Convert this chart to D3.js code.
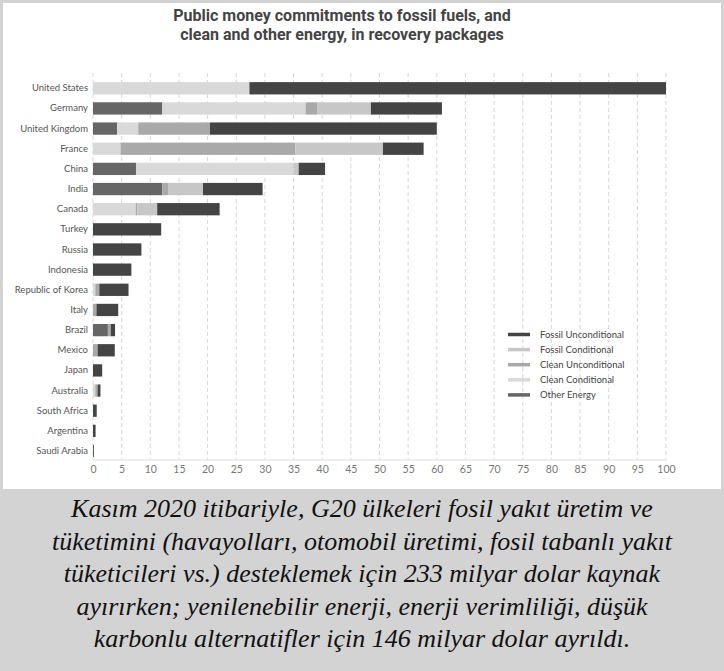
<!DOCTYPE html>
<html>
<head>
<meta charset="utf-8">
<title>Recovery packages</title>
<style>
  body { margin: 0; background: #d3d3d3; }
  svg { display: block; }
</style>
</head>
<body>
<div id="viz"></div>
<script src="https://d3js.org/d3.v7.min.js"></script>
<script>

var countries = ["United States", "Germany", "United Kingdom", "France", "China", "India", "Canada",
    "Turkey", "Russia", "Indonesia", "Republic of Korea", "Italy", "Brazil", "Mexico", "Japan",
    "Australia", "South Africa", "Argentina", "Saudi Arabia"];

// billions USD
var otherEnergy         = [0, 12.1, 4.2, 0, 7.5, 12.1, 0, 0, 0, 0, 0, 0, 2.6, 0, 0, 0, 0, 0, 0];
var cleanConditional    = [27.3, 25.0, 3.7, 4.8, 27.5, 0, 7.45, 0, 0, 0, 0.4, 0, 0, 0, 0, 0.4, 0, 0, 0];
var cleanUnconditional  = [0, 2.1, 12.5, 30.5, 0, 1.1, 0.3, 0, 0, 0, 0.7, 0.6, 0.5, 0.8, 0, 0.4, 0, 0, 0];
var fossilConditional   = [0, 9.3, 0, 15.3, 0.9, 6.0, 3.45, 0, 0, 0, 0, 0, 0, 0, 0, 0, 0, 0, 0];
var fossilUnconditional = [72.7, 12.4, 39.6, 7.1, 4.6, 10.4, 10.9, 11.9, 8.45, 6.7, 5.1, 3.8, 0.75, 3.0, 1.6, 0.5, 0.65, 0.45, 0.15];

var xTicks = d3.range(0, 101, 5);

var seriesKeys = ["Other Energy", "Clean Conditional", "Clean Unconditional", "Fossil Conditional", "Fossil Unconditional"];
var seriesValues = [otherEnergy, cleanConditional, cleanUnconditional, fossilConditional, fossilUnconditional];
var seriesColors = ["#666666", "#d9d9d9", "#a9a9a9", "#c7c7c7", "#444444"];
var legendOrder = ["Fossil Unconditional", "Fossil Conditional", "Clean Unconditional", "Clean Conditional", "Other Energy"];

var caption = [
    "Kasım 2020 itibariyle, G20 ülkeleri fosil yakıt üretim ve",
    "tüketimini (havayolları, otomobil üretimi, fosil tabanlı yakıt",
    "tüketicileri vs.) desteklemek için 233 milyar dolar kaynak",
    "ayırırken; yenilenebilir enerji, enerji verimliliği, düşük",
    "karbonlu alternatifler için 146 milyar dolar ayrıldı."
];

var width = 724, height = 671;

var rows = countries.map(function (c, i) {
    var r = { country: c };
    seriesKeys.forEach(function (k, j) { r[k] = seriesValues[j][i]; });
    return r;
});

var svg = d3.select("#viz").append("svg")
    .attr("width", width)
    .attr("height", height);

// frame
svg.append("rect").attr("width", width).attr("height", height).attr("fill", "#d3d3d3");
svg.append("rect")
    .attr("x", 3).attr("y", 3)
    .attr("width", width - 6).attr("height", 486)
    .attr("fill", "#fff");

// title
svg.append("text")
    .attr("x", 342).attr("y", 21)
    .attr("text-anchor", "middle")
    .style("font-family", "Roboto, sans-serif")
    .style("font-weight", 700)
    .style("font-size", "16px")
    .attr("fill", "#444")
    .selectAll("tspan")
    .data(["Public money commitments to fossil fuels, and", "clean and other energy, in recovery packages"])
    .enter().append("tspan")
    .attr("x", 342)
    .attr("dy", function (d, i) { return i ? 19 : 0; })
    .text(function (d) { return d; });

var x = d3.scaleLinear().domain([0, 100]).range([93, 666]);
var y = d3.scaleBand().domain(countries).range([78.2, 461.1]).paddingInner(0.39).paddingOuter(0.195);

var gridTop = 73, axisY = 459.5;

// gridlines
svg.append("g")
    .selectAll("line")
    .data(xTicks)
    .enter().append("line")
    .attr("x1", function (d) { return x(d); })
    .attr("x2", function (d) { return x(d); })
    .attr("y1", gridTop)
    .attr("y2", axisY)
    .attr("stroke", "#d6d6d6")
    .attr("stroke-width", 1)
    .attr("stroke-dasharray", "4,3");

// x axis
var xAxis = svg.append("g")
    .attr("transform", "translate(0," + axisY + ")")
    .call(d3.axisBottom(x).tickValues(xTicks).tickSize(0).tickPadding(6));
xAxis.select(".domain").attr("stroke", "#ddd");
xAxis.selectAll("text")
    .style("font-family", "Lato, sans-serif")
    .style("font-size", "10.5px")
    .attr("fill", "#777");

// country labels
var yAxis = svg.append("g")
    .attr("transform", "translate(93,0)")
    .call(d3.axisLeft(y).tickSize(0).tickPadding(5));
yAxis.select(".domain").remove();
yAxis.selectAll("text")
    .style("font-family", "Lato, sans-serif")
    .style("font-size", "9.5px")
    .attr("fill", "#555");

// bars
var stacked = d3.stack().keys(seriesKeys)(rows);
var color = d3.scaleOrdinal().domain(seriesKeys).range(seriesColors);

svg.append("g")
    .selectAll("g")
    .data(stacked)
    .enter().append("g")
    .attr("fill", function (d) { return color(d.key); })
    .selectAll("rect")
    .data(function (d) { return d; })
    .enter().append("rect")
    .attr("x", function (d) { return x(d[0]); })
    .attr("y", function (d) { return y(d.data.country); })
    .attr("width", function (d) { return Math.max(0, x(d[1]) - x(d[0])); })
    .attr("height", y.bandwidth());

// legend
var legend = svg.append("g").attr("transform", "translate(508,334.5)");
var lg = legend.selectAll("g")
    .data(legendOrder)
    .enter().append("g")
    .attr("transform", function (d, i) { return "translate(0," + (i * 15.1) + ")"; });
lg.append("rect")
    .attr("x", 0).attr("y", -1.75)
    .attr("width", 22).attr("height", 3.5)
    .attr("fill", function (d) { return color(d); });
lg.append("text")
    .attr("x", 32).attr("dy", "0.35em")
    .style("font-family", "Lato, sans-serif")
    .style("font-size", "9.5px")
    .attr("fill", "#444")
    .text(function (d) { return d; });

// caption
svg.append("g")
    .selectAll("text")
    .data(caption)
    .enter().append("text")
    .attr("x", 362)
    .attr("y", function (d, i) { return 517 + i * 32.5; })
    .attr("text-anchor", "middle")
    .style("font-family", "'Liberation Serif', serif")
    .style("font-style", "italic")
    .style("font-size", "26px")
    .attr("fill", "#111")
    .text(function (d) { return d; });

</script>
</body>
</html>
